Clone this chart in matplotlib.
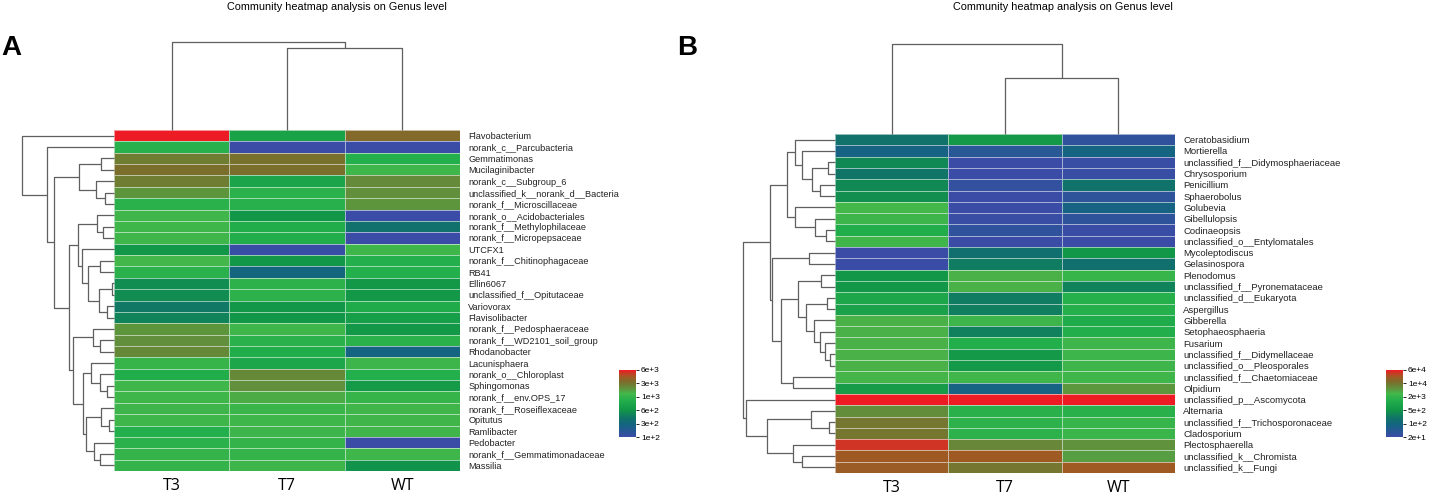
import numpy as np
import matplotlib
matplotlib.use('Agg')
import matplotlib.pyplot as plt
from matplotlib.colors import LinearSegmentedColormap, Normalize
from matplotlib.cm import ScalarMappable

plt.rcParams['font.family'] = ['Liberation Sans', 'DejaVu Sans']

W, H = 1439, 495

samples = ['T3', 'T7', 'WT']

genus_a = ['Flavobacterium', 'norank_c__Parcubacteria', 'Gemmatimonas', 'Mucilaginibacter',
           'norank_c__Subgroup_6', 'unclassified_k__norank_d__Bacteria', 'norank_f__Microscillaceae',
           'norank_o__Acidobacteriales', 'norank_f__Methylophilaceae', 'norank_f__Micropepsaceae',
           'UTCFX1', 'norank_f__Chitinophagaceae', 'RB41', 'Ellin6067', 'unclassified_f__Opitutaceae',
           'Variovorax', 'Flavisolibacter', 'norank_f__Pedosphaeraceae', 'norank_f__WD2101_soil_group',
           'Rhodanobacter', 'Lacunisphaera', 'norank_o__Chloroplast', 'Sphingomonas',
           'norank_f__env.OPS_17', 'norank_f__Roseiflexaceae', 'Opitutus', 'Ramlibacter',
           'Pedobacter', 'norank_f__Gemmatimonadaceae', 'Massilia']

# abundance per genus, columns T3 / T7 / WT
abund_a = np.array([
    [6000, 720, 3400], [900, 100, 100], [2700, 3100, 880], [3200, 3200, 1200],
    [2700, 740, 2200], [1950, 930, 2050], [930, 900, 1950], [1250, 600, 100],
    [1200, 850, 380], [1200, 850, 100], [600, 105, 1200], [1300, 600, 880],
    [930, 290, 880], [540, 950, 620], [540, 950, 620], [420, 600, 830],
    [480, 600, 680], [1950, 1200, 620], [2050, 930, 930], [2250, 850, 270],
    [1050, 780, 1150], [850, 2250, 880], [1200, 2050, 640], [1200, 1500, 1050],
    [1150, 1100, 1250], [1200, 1200, 1250], [880, 1150, 1250], [930, 1000, 100],
    [1000, 1000, 1200], [1000, 1150, 580]])

genus_b = ['Ceratobasidium', 'Mortierella', 'unclassified_f__Didymosphaeriaceae', 'Chrysosporium',
           'Penicillium', 'Sphaerobolus', 'Golubevia', 'Gibellulopsis', 'Codinaeopsis',
           'unclassified_o__Entylomatales', 'Mycoleptodiscus', 'Gelasinospora', 'Plenodomus',
           'unclassified_f__Pyronemataceae', 'unclassified_d__Eukaryota', 'Aspergillus', 'Gibberella',
           'Setophaeosphaeria', 'Fusarium', 'unclassified_f__Didymellaceae', 'unclassified_o__Pleosporales',
           'unclassified_f__Chaetomiaceae', 'Olpidium', 'unclassified_p__Ascomycota', 'Alternaria',
           'unclassified_f__Trichosporonaceae', 'Cladosporium', 'Plectosphaerella',
           'unclassified_k__Chromista', 'unclassified_k__Fungi']

abund_b = np.array([
    [180, 560, 30], [80, 40, 85], [360, 20, 22], [200, 20, 22], [360, 27, 180],
    [420, 20, 32], [3000, 20, 80], [2500, 21, 32], [1300, 30, 21], [2700, 20, 20],
    [20, 150, 500], [20, 240, 160], [500, 3300, 2200], [500, 3300, 290], [1000, 240, 1500],
    [800, 260, 1500], [3300, 2500, 1200], [3300, 280, 1350], [3300, 1350, 2500], [3300, 560, 2500],
    [3300, 560, 2500], [3100, 2700, 2600], [620, 80, 5200], [60000, 58000, 58000], [6000, 1600, 1600],
    [10000, 1700, 2200], [10000, 1700, 2300], [42000, 6700, 5600], [24000, 24000, 4500],
    [22000, 10000, 24000]])

ticks_a = [1e2, 3e2, 6e2, 1e3, 3e3, 6e3]
tick_labels_a = ['1e+2', '3e+2', '6e+2', '1e+3', '3e+3', '6e+3']
ticks_b = [2e1, 1e2, 5e2, 2e3, 1e4, 6e4]
tick_labels_b = ['2e+1', '1e+2', '5e+2', '2e+3', '1e+4', '6e+4']

# clustering trees: (left, right, height); leaves are row / column indices
tree_a = (0, (1, (((2, 3, 0.144), (4, (5, 6, 0.097), 0.201), 0.378),
                  (((7, (8, 9, 0.119), 0.183),
                    (10, ((11, 12, 0.155), ((13, 14, 0.018), (15, 16, 0.072), 0.162), 0.288), 0.345), 0.388),
                   ((17, (18, 19, 0.155), 0.227),
                    ((20, (21, (22, 23, 0.072), 0.155), 0.245),
                     ((24, (25, 26, 0.054), 0.137), (27, (28, 29, 0.155), 0.216), 0.299), 0.342), 0.442),
                   0.486), 0.647), 0.730), 1.0)

tree_b = ((((0, (1, ((2, 3, 0.073), (4, 5, 0.164), 0.247), 0.364), 0.436),
            (6, (7, (8, 9, 0.102), 0.218), 0.436), 0.527),
           ((10, 11, 0.284),
            ((((12, 13, 0.153),
               ((14, 15, 0.091), (16, (17, (18, (19, 20, 0.055), 0.109), 0.164), 0.229), 0.316), 0.4),
              (21, 22, 0.455), 0.582)), 0.684), 0.709),
          (23, ((24, (25, 26, 0.065), 0.262), (27, (28, 29, 0.364), 0.455), 0.735), 0.964), 1.0)

col_tree_a = (0, (1, 2, 0.93), 1.0)
col_tree_b = (0, (1, 2, 0.62), 1.0)

cmap = LinearSegmentedColormap.from_list('heat', [
    (0.00, '#3A4CA6'), (0.18, '#146482'), (0.28, '#107369'), (0.40, '#129648'),
    (0.55, '#23AF4B'), (0.65, '#44B74A'), (0.74, '#648C3A'), (0.82, '#7A6E2C'),
    (0.90, '#A05A24'), (1.00, '#ED1C24')])


def px_axes(fig, x0, y0, x1, y1):
    return fig.add_axes([x0 / W, 1 - y1 / H, (x1 - x0) / W, (y1 - y0) / H])


def draw_tree(ax, node, orient):
    if not isinstance(node, tuple):
        return node, 0.0
    left, right, h = node
    p1, h1 = draw_tree(ax, left, orient)
    p2, h2 = draw_tree(ax, right, orient)
    ps = [p1, p1, p2, p2]
    hs = [h1, h, h, h2]
    if orient == 'left':
        ax.plot(hs, ps, color='#5f5f5f', lw=0.9, clip_on=False, solid_capstyle='butt')
    else:
        ax.plot(ps, hs, color='#5f5f5f', lw=0.9, clip_on=False, solid_capstyle='butt')
    return (p1 + p2) / 2, h


def panel(fig, genus, abund, ticks, tick_labels, row_tree, col_tree, box, dend_x0, col_top,
          cbar_box, label_size):
    x0, y0, x1, y1 = box
    n = len(genus)
    pos = np.interp(np.log10(abund), np.log10(ticks), np.linspace(0, 1, len(ticks)))

    ax = px_axes(fig, x0, y0, x1, y1)
    ax.pcolormesh(np.arange(len(samples) + 1) - 0.5, np.arange(n + 1) - 0.5, pos,
                  cmap=cmap, vmin=0, vmax=1, edgecolors=(1, 1, 1, 0.55), linewidth=0.7)
    ax.set_xlim(-0.5, len(samples) - 0.5)
    ax.set_ylim(n - 0.5, -0.5)
    ax.yaxis.tick_right()
    ax.set_yticks(range(n))
    ax.set_yticklabels(genus, fontsize=label_size)
    ax.set_xticks(range(len(samples)))
    ax.set_xticklabels(samples, fontsize=11.5, family=['Open Sans', 'DejaVu Sans'])
    ax.tick_params(length=0)
    ax.tick_params(axis='y', pad=6, colors='#222222')
    ax.tick_params(axis='x', pad=5)
    for s in ax.spines.values():
        s.set_visible(False)

    rax = px_axes(fig, dend_x0, y0, x0, y1)
    draw_tree(rax, row_tree, 'left')
    rax.set_xlim(1.0, 0)
    rax.set_ylim(n - 0.5, -0.5)
    rax.axis('off')

    cax = px_axes(fig, x0, col_top, x1, y0)
    draw_tree(cax, col_tree, 'top')
    cax.set_xlim(-0.5, len(samples) - 0.5)
    cax.set_ylim(0, 1.0)
    cax.axis('off')

    bax = px_axes(fig, *cbar_box)
    cb = fig.colorbar(ScalarMappable(Normalize(0, 1), cmap), cax=bax)
    cb.set_ticks(np.linspace(0, 1, len(ticks)), labels=tick_labels)
    cb.ax.tick_params(labelsize=6, length=2, width=0.6, pad=1.5)
    cb.outline.set_visible(False)


fig = plt.figure(figsize=(W / 100, H / 100), dpi=100)

panel(fig, genus_a, abund_a, ticks_a, tick_labels_a, tree_a, col_tree_a,
      (114, 130, 460, 471), 22, 42, (619, 370, 636, 437), 6.6)
panel(fig, genus_b, abund_b, ticks_b, tick_labels_b, tree_b, col_tree_b,
      (835, 134, 1175, 473), 743, 44, (1386, 370, 1403, 437), 6.8)

fig.text(337 / W, 1 - 7 / H, 'Community heatmap analysis on Genus level', ha='center', va='center', fontsize=7.8)
fig.text(1063 / W, 1 - 7 / H, 'Community heatmap analysis on Genus level', ha='center', va='center', fontsize=7.8)
fig.text(1 / W, 1 - 48 / H, 'A', ha='left', va='center', fontsize=20, fontweight='bold')
fig.text(677 / W, 1 - 48 / H, 'B', ha='left', va='center', fontsize=20, fontweight='bold')

fig.savefig('out.png', dpi=100)
